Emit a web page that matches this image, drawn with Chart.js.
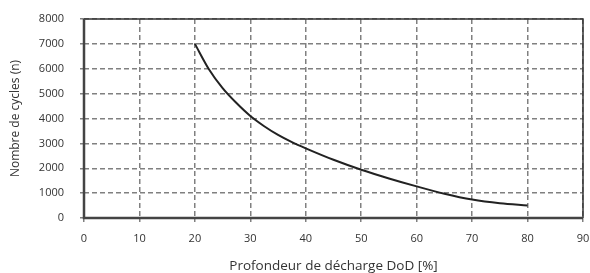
<!DOCTYPE html>
<html>
<head>
<meta charset="utf-8">
<script src="https://cdn.jsdelivr.net/npm/chart.js@4/dist/chart.umd.min.js"></script>
<style>
html,body{margin:0;padding:0;background:#fff;}
#wrap{width:590px;height:273px;position:relative;}
</style>
</head>
<body>
<div id="wrap"><canvas id="c" width="590" height="273"></canvas></div>
<script>
const dod = [20, 22.5, 25, 27.5, 30, 32.5, 35, 37.5, 40, 45, 50, 55, 60, 65, 70, 75, 80];
const cycles = [7000, 5990, 5220, 4620, 4100, 3690, 3340, 3050, 2800, 2340, 1940, 1590, 1270, 975, 740, 590, 500];
const xTitle = 'Profondeur de décharge DoD [%]';
const yTitle = 'Nombre de cycles (n)';

const frame = {
  id: 'frame',
  afterDatasetsDraw(chart) {
    const a = chart.chartArea, ctx = chart.ctx;
    ctx.save();
    ctx.strokeStyle = '#333';
    ctx.lineWidth = 1.5;
    ctx.beginPath();
    ctx.moveTo(a.left, a.top); ctx.lineTo(a.right, a.top); ctx.lineTo(a.right, a.bottom);
    ctx.stroke();
    ctx.lineWidth = 2.5;
    ctx.strokeStyle = '#444';
    ctx.beginPath();
    ctx.moveTo(a.left, a.top); ctx.lineTo(a.left, a.bottom); ctx.lineTo(a.right, a.bottom);
    ctx.stroke();
    ctx.restore();
  }
};

new Chart(document.getElementById('c'), {
  type: 'line',
  data: {
    datasets: [{
      data: dod.map((x, i) => ({x: x, y: cycles[i]})),
      borderColor: '#222',
      borderWidth: 2,
      pointRadius: 0,
      cubicInterpolationMode: 'monotone',
      fill: false
    }]
  },
  options: {
    responsive: false,
    animation: false,
    layout: {autoPadding: false, padding: {left: 0, right: 7, top: 19, bottom: 0}},
    plugins: {legend: {display: false}, tooltip: {enabled: false}},
    scales: {
      x: {
        type: 'linear', min: 0, max: 90,
        ticks: {stepSize: 10, color: '#333', font: {family: 'Open Sans', size: 11}, padding: 10},
        grid: {color: '#808080', lineWidth: 1.5, tickLength: 4, drawTicks: true, tickColor: '#808080'},
        border: {display: false, dash: [5, 3]},
        title: {display: true, text: xTitle, color: '#333', font: {family: 'Open Sans', size: 13.5}, padding: {top: 4, bottom: -1}},
        afterFit: s => { s.height = 55; s.paddingLeft = 0; s.paddingRight = 0; }
      },
      y: {
        min: 0, max: 8000,
        ticks: {stepSize: 1000, color: '#333', font: {family: 'Open Sans', size: 11}, padding: 16,
          callback: v => String(v)},
        grid: {color: '#808080', lineWidth: 1.5, tickLength: 4, tickColor: '#808080'},
        border: {display: false, dash: [5, 3]},
        title: {display: true, text: yTitle, color: '#333', font: {family: 'Open Sans', size: 12}, padding: {top: 8, bottom: 0}},
        afterFit: s => { s.width = 84; s.paddingTop = 0; s.paddingBottom = 0; }
      }
    }
  },
  plugins: [frame]
});
</script>
</body>
</html>
